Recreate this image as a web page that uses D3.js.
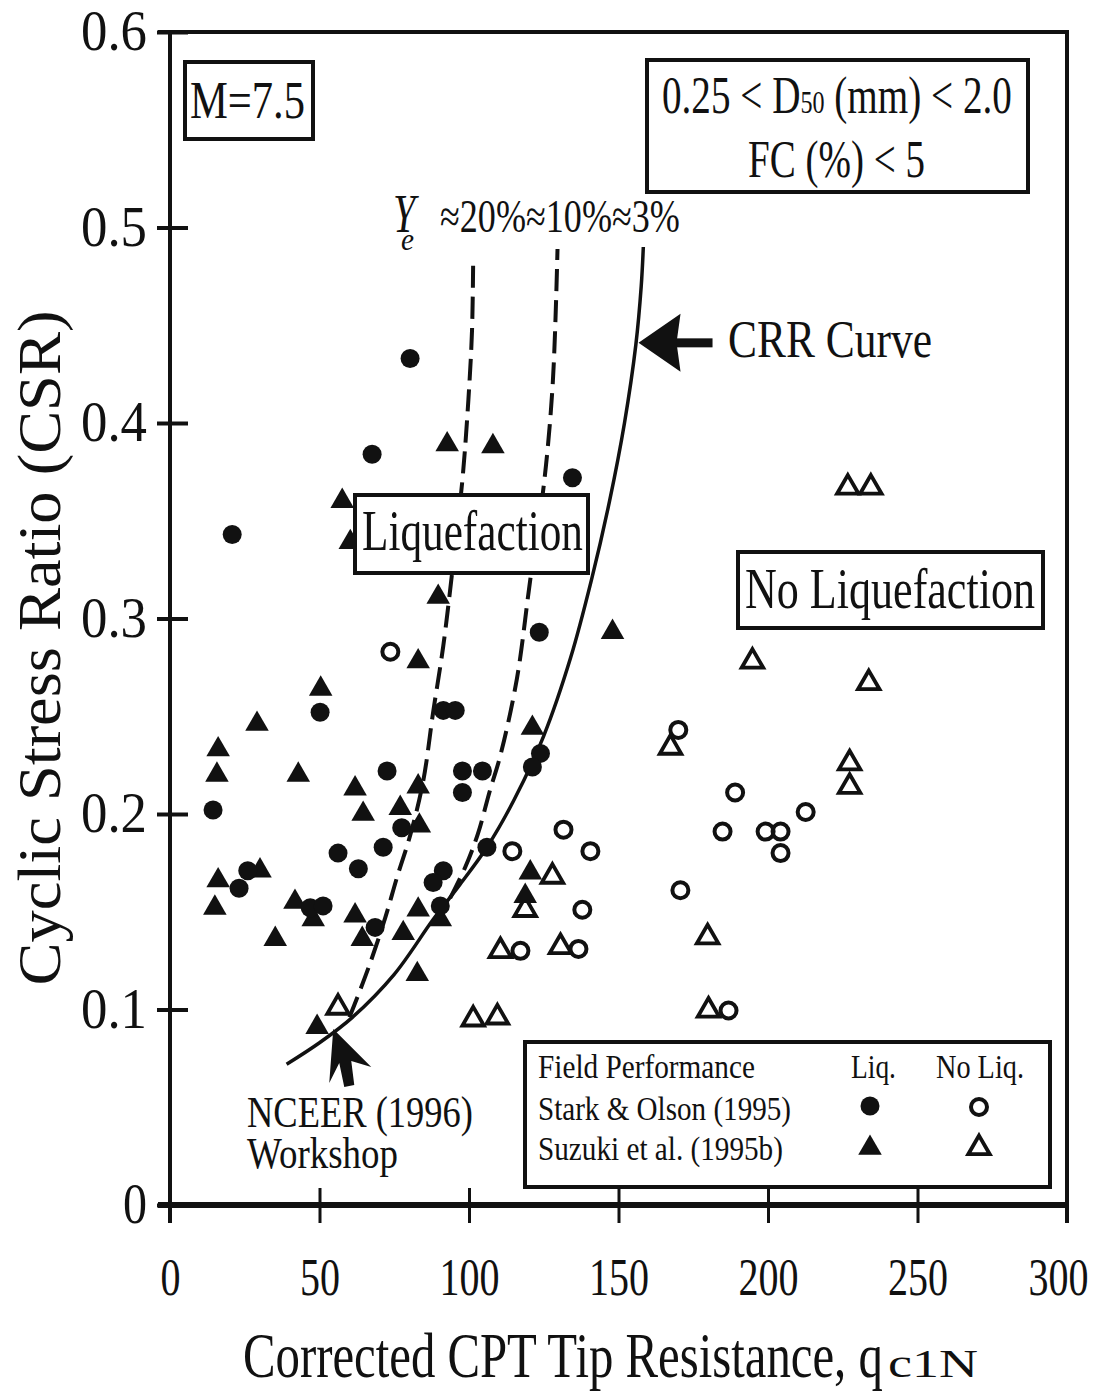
<!DOCTYPE html>
<html lang="en">
<head>
<meta charset="UTF-8" />
<title>CRR curve - CPT</title>
<script src="https://d3js.org/d3.v7.min.js"></script>
<style>
  body { margin: 0; background: #fff; }
  text { font-family: "Liberation Serif", "Times New Roman", serif; fill: #111; }
</style>
</head>
<body>
<div id="chart"></div>
<script>
var w = 1095, h = 1392;
var padLeft = 170, padRight = 1067, padTop = 32, padBottom = 1205;

// tick values
var xTicks = [0, 50, 100, 150, 200, 250, 300];
var yTicks = [0, 0.1, 0.2, 0.3, 0.4, 0.5, 0.6];

// Stark & Olson (1995) - liquefied  [qc1N, CSR]
var starkLiq = [[80.3,0.433],[20.8,0.343],[67.6,0.384],[134.6,0.372],[123.5,0.293],[14.4,0.202],
  [23.1,0.162],[26,0.171],[50.2,0.252],[72.6,0.222],[56.2,0.18],[63,0.172],[71.3,0.183],[77.5,0.193],
  [91.4,0.253],[95.4,0.253],[97.8,0.222],[97.8,0.211],[104.5,0.222],[123.9,0.231],[121.2,0.224],
  [106,0.183],[91.4,0.171],[88,0.165],[46.9,0.152],[51.2,0.153],[68.6,0.142],[90.4,0.153]];
// Stark & Olson (1995) - no liquefaction
var starkNoLiq = [[73.7,0.283],[114.5,0.181],[131.6,0.192],[140.6,0.181],[137.9,0.151],[117.2,0.13],
  [136.6,0.131],[170.7,0.161],[170,0.243],[189,0.211],[184.8,0.191],[199.2,0.191],[204.2,0.191],
  [204.2,0.18],[212.6,0.201],[186.8,0.0995]];
// Suzuki et al. (1995b) - liquefied
var suzukiLiq = [[92.7,0.389],[108,0.388],[57.6,0.36],[60.3,0.339],[89.7,0.311],[83,0.278],[148,0.293],
  [29.1,0.246],[16.1,0.233],[121.2,0.244],[15.7,0.22],[42.9,0.22],[61.9,0.213],[64.6,0.2],[83,0.214],
  [77,0.203],[83.4,0.194],[50.4,0.264],[16.1,0.166],[15,0.152],[41.8,0.155],[47.9,0.146],[35.2,0.136],
  [61.9,0.148],[64.3,0.136],[83,0.151],[78,0.139],[82.7,0.118],[49.2,0.091],[90.4,0.146],[120.5,0.17],
  [118.8,0.158],[30.1,0.171]];
// Suzuki et al. (1995b) - no liquefaction
var suzukiNoLiq = [[226.7,0.367],[234.4,0.367],[194.8,0.278],[233.7,0.267],[227.3,0.226],[227.3,0.214],
  [167.4,0.234],[179.8,0.137],[180.1,0.0995],[127.9,0.168],[118.8,0.151],[110.5,0.13],[130.6,0.132],
  [101.4,0.095],[109.5,0.096],[56.2,0.101]];

// curves
var crrCurve = [[39,0.072],[50,0.083],[61,0.096],[75,0.118],[88,0.146],[97,0.164],[106,0.183],
  [115,0.207],[125,0.24],[134,0.28],[141,0.32],[147,0.36],[152,0.40],[155.8,0.44],[157.6,0.47],[158.3,0.49]];
var strain10 = [[93.7,0.157],[98.8,0.173],[103,0.19],[107,0.212],[110.5,0.23],[116,0.269],
  [120.5,0.32],[125,0.368],[128,0.42],[129.6,0.489]];
var strain20 = [[60,0.096],[62.6,0.106],[67,0.124],[72,0.147],[76,0.168],[80.5,0.19],[84.7,0.217],
  [88,0.252],[91.4,0.286],[94.4,0.324],[97.8,0.371],[99.8,0.412],[101,0.447],[101.4,0.484]];

var svg = d3.select("#chart").append("svg")
  .attr("width", w).attr("height", h)
  .style("background", "#fff");

var x = d3.scaleLinear().domain([0, 300]).range([padLeft, padRight]);
var y = d3.scaleLinear().domain([0, 0.6]).range([padBottom, padTop]);

// fit a text block to a given width by squeezing it horizontally
function fitText(px, baseline, width, size, build, opts) {
  opts = opts || {};
  var g = svg.append("g");
  var t = g.append("text").attr("font-size", size)
    .attr("text-anchor", opts.anchor || "start");
  build(t);
  var bw = t.node().getBBox().width;
  var sx = width / bw;
  var tr = "translate(" + px + "," + baseline + ")";
  if (opts.rotate) tr += " rotate(" + opts.rotate + ")";
  g.attr("transform", tr + " scale(" + sx + ",1)");
  return g;
}

// axes
var xAxis = d3.axisBottom(x).tickValues(xTicks).tickSize(18).tickPadding(35)
  .tickFormat(d3.format("d"));
var gx = svg.append("g").attr("transform", "translate(0," + padBottom + ")").call(xAxis);
gx.select(".domain").remove();
gx.selectAll(".tick line").attr("y1", -17).attr("y2", 18).attr("stroke", "#111").attr("stroke-width", 3);
gx.selectAll(".tick text").attr("font-size", 52).attr("fill", "#111")
  .attr("font-family", "Liberation Serif")
  .attr("dx", function (d) { return d === 300 ? -9 : 0; })
  .attr("textLength", function (d) { return String(d).length * 20; })
  .attr("lengthAdjust", "spacingAndGlyphs");

var yAxis = d3.axisLeft(y).tickValues(yTicks).tickSize(13).tickPadding(10)
  .tickFormat(function (d) { return d === 0 ? "0" : d3.format(".1f")(d); });
var gy = svg.append("g").attr("transform", "translate(" + padLeft + ",0)").call(yAxis);
gy.select(".domain").remove();
gy.selectAll(".tick line").attr("x1", -13).attr("x2", 18).attr("stroke", "#111").attr("stroke-width", 4);
gy.selectAll(".tick text").attr("font-size", 56).attr("fill", "#111")
  .attr("font-family", "Liberation Serif")
  .attr("textLength", function (d) { return d === 0 ? 24 : 66; })
  .attr("lengthAdjust", "spacingAndGlyphs");

// frame
var frame = svg.append("g").attr("stroke", "#111").attr("fill", "none");
frame.append("line").attr("x1", padLeft).attr("x2", padLeft).attr("y1", y(0.6)).attr("y2", padBottom + 18).attr("stroke-width", 4);
frame.append("line").attr("x1", x(300)).attr("x2", x(300)).attr("y1", y(0.6)).attr("y2", padBottom + 18).attr("stroke-width", 4);
frame.append("line").attr("x1", padLeft - 12).attr("x2", x(300) + 2).attr("y1", y(0.6)).attr("y2", y(0.6)).attr("stroke-width", 4);
frame.append("line").attr("x1", padLeft - 12).attr("x2", x(300) + 2).attr("y1", padBottom).attr("y2", padBottom).attr("stroke-width", 6);

// curves
var line = d3.line()
  .x(function (d) { return x(d[0]); })
  .y(function (d) { return y(d[1]); })
  .curve(d3.curveCatmullRom.alpha(0.5));

svg.append("path").datum(strain20).attr("d", line)
  .attr("fill", "none").attr("stroke", "#111").attr("stroke-width", 4)
  .attr("stroke-dasharray", "22,9");
svg.append("path").datum(strain10).attr("d", line)
  .attr("fill", "none").attr("stroke", "#111").attr("stroke-width", 4)
  .attr("stroke-dasharray", "22,9");
svg.append("path").datum(crrCurve).attr("d", line)
  .attr("fill", "none").attr("stroke", "#111").attr("stroke-width", 3.5);

// markers
var triFilled = d3.symbol().type(d3.symbolTriangle).size(240);
var triOpen = d3.symbol().type(d3.symbolTriangle).size(200);

function drawPoints(data, kind) {
  var g = svg.append("g");
  if (kind === "circleFilled") {
    g.selectAll("circle").data(data).enter().append("circle")
      .attr("cx", function (d) { return x(d[0]); })
      .attr("cy", function (d) { return y(d[1]); })
      .attr("r", 9.5).attr("fill", "#111");
  } else if (kind === "circleOpen") {
    g.selectAll("circle").data(data).enter().append("circle")
      .attr("cx", function (d) { return x(d[0]); })
      .attr("cy", function (d) { return y(d[1]); })
      .attr("r", 8).attr("fill", "none").attr("stroke", "#111").attr("stroke-width", 4);
  } else {
    g.selectAll("path").data(data).enter().append("path")
      .attr("transform", function (d) { return "translate(" + x(d[0]) + "," + y(d[1]) + ")"; })
      .attr("d", kind === "triFilled" ? triFilled : triOpen)
      .attr("fill", kind === "triFilled" ? "#111" : "none")
      .attr("stroke", kind === "triFilled" ? "none" : "#111")
      .attr("stroke-width", 3.8).attr("stroke-linejoin", "miter");
  }
}
drawPoints(suzukiNoLiq, "triOpen");
drawPoints(starkNoLiq, "circleOpen");
drawPoints(suzukiLiq, "triFilled");
drawPoints(starkLiq, "circleFilled");

// annotation boxes
function box(x0, y0, x1, y1) {
  svg.append("rect").attr("x", x0).attr("y", y0).attr("width", x1 - x0).attr("height", y1 - y0)
    .attr("fill", "#fff").attr("stroke", "#111").attr("stroke-width", 4);
}

box(185, 62, 313, 139);
fitText(190, 118, 115, 53, function (t) { t.text("M=7.5"); });

box(647, 60, 1028, 192);
fitText(662, 113, 350, 52, function (t) {
  t.append("tspan").text("0.25 < D");
  t.append("tspan").attr("font-size", 32).text("50");
  t.append("tspan").text(" (mm) < 2.0");
});
fitText(748, 177, 177, 52, function (t) { t.text("FC (%) < 5"); });

// strain labels
fitText(393, 232, 26, 54, function (t) { t.attr("font-style", "italic").text("Y"); });
fitText(401, 250, 13, 32, function (t) { t.attr("font-style", "italic").text("e"); });
fitText(440, 232, 240, 46, function (t) { t.text("\u224820%\u224810%\u22483%"); });

// CRR arrow
var tipX = x(156.7), tipY = y(0.441);
svg.append("rect").attr("x", tipX + 36).attr("y", tipY - 4.5).attr("width", 38).attr("height", 9).attr("fill", "#111");
svg.append("path").attr("d", "M" + tipX + "," + tipY + "L" + (tipX + 42) + "," + (tipY - 29) +
  "L" + (tipX + 38) + "," + tipY + "L" + (tipX + 42) + "," + (tipY + 29) + "Z").attr("fill", "#111");
fitText(728, 357, 204, 53, function (t) { t.text("CRR Curve"); });

box(355, 495, 588, 573);
fitText(362, 550, 221, 57, function (t) { t.text("Liquefaction"); });

box(738, 552, 1043, 628);
fitText(745, 608, 290, 57, function (t) { t.text("No Liquefaction"); });

// NCEER arrow
var nx = x(54.6), ny = y(0.09);
svg.append("path").attr("d", "M" + nx + "," + ny +
  "L" + (nx + 38) + "," + (ny + 38) + "L" + (nx + 18) + "," + (ny + 32) +
  "L" + (nx + 21) + "," + (ny + 56) + "L" + (nx + 11) + "," + (ny + 58) +
  "L" + (nx + 6) + "," + (ny + 34) + "L" + (nx - 4) + "," + (ny + 54) + "Z")
  .attr("fill", "#111");
fitText(247, 1127, 226, 44, function (t) { t.text("NCEER (1996)"); });
fitText(247, 1168, 151, 44, function (t) { t.text("Workshop"); });

// legend
box(525, 1042, 1050, 1187);
fitText(538, 1078, 217, 33, function (t) { t.text("Field Performance"); });
fitText(538, 1120, 253, 33, function (t) { t.text("Stark & Olson (1995)"); });
fitText(538, 1160, 245, 33, function (t) { t.text("Suzuki et al. (1995b)"); });
fitText(851, 1078, 45, 33, function (t) { t.text("Liq."); });
fitText(936, 1078, 88, 33, function (t) { t.text("No Liq."); });
svg.append("circle").attr("cx", 870).attr("cy", 1106).attr("r", 9.5).attr("fill", "#111");
svg.append("circle").attr("cx", 979).attr("cy", 1107).attr("r", 8).attr("fill", "none").attr("stroke", "#111").attr("stroke-width", 4);
svg.append("path").attr("transform", "translate(870,1148)").attr("d", triFilled).attr("fill", "#111");
svg.append("path").attr("transform", "translate(979,1148)").attr("d", triOpen).attr("fill", "none").attr("stroke", "#111").attr("stroke-width", 3.8);

// axis titles
fitText(243, 1377, 640, 63, function (t) { t.text("Corrected CPT Tip Resistance, q"); });
fitText(888, 1377, 90, 40, function (t) { t.text("c1N"); });
fitText(60, 648, 675, 62, function (t) { t.text("Cyclic Stress Ratio (CSR)"); }, { anchor: "middle", rotate: -90 });
</script>
</body>
</html>
